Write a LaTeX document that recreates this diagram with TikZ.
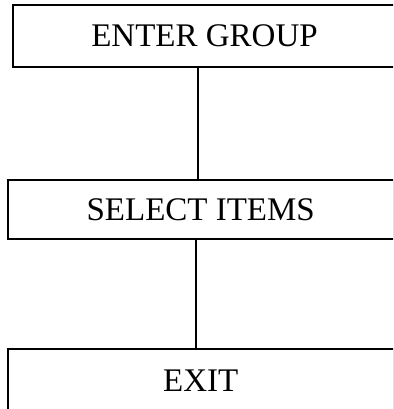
\documentclass[tikz,border=0pt]{standalone}
\usepackage{fontspec}
\setmainfont{Liberation Serif}
\begin{document}
\begin{tikzpicture}[x=1pt,y=-1pt,
  box/.style={draw=black, line width=1.3pt, inner sep=0pt, font=\fontsize{33}{36}\selectfont, anchor=center},
  conn/.style={draw=black, line width=1.3pt}]
\useasboundingbox (0,0) rectangle (393,409);
\clip (0,0) rectangle (393,409);
\node[box, minimum width=383pt, minimum height=62pt] (enter) at (204.5,36) {ENTER GROUP};
\node[box, minimum width=385.4pt, minimum height=59pt] (select) at (200.7,209.5) {SELECT ITEMS};
\node[box, minimum width=385.4pt, minimum height=63pt] (exit) at (200.7,380.5) {EXIT};
\coordinate (c1) at (198,0);
\coordinate (c2) at (196,0);
\draw[conn] (enter.south -| c1) -- (select.north -| c1);
\draw[conn] (select.south -| c2) -- (exit.north -| c2);
\end{tikzpicture}
\end{document}
